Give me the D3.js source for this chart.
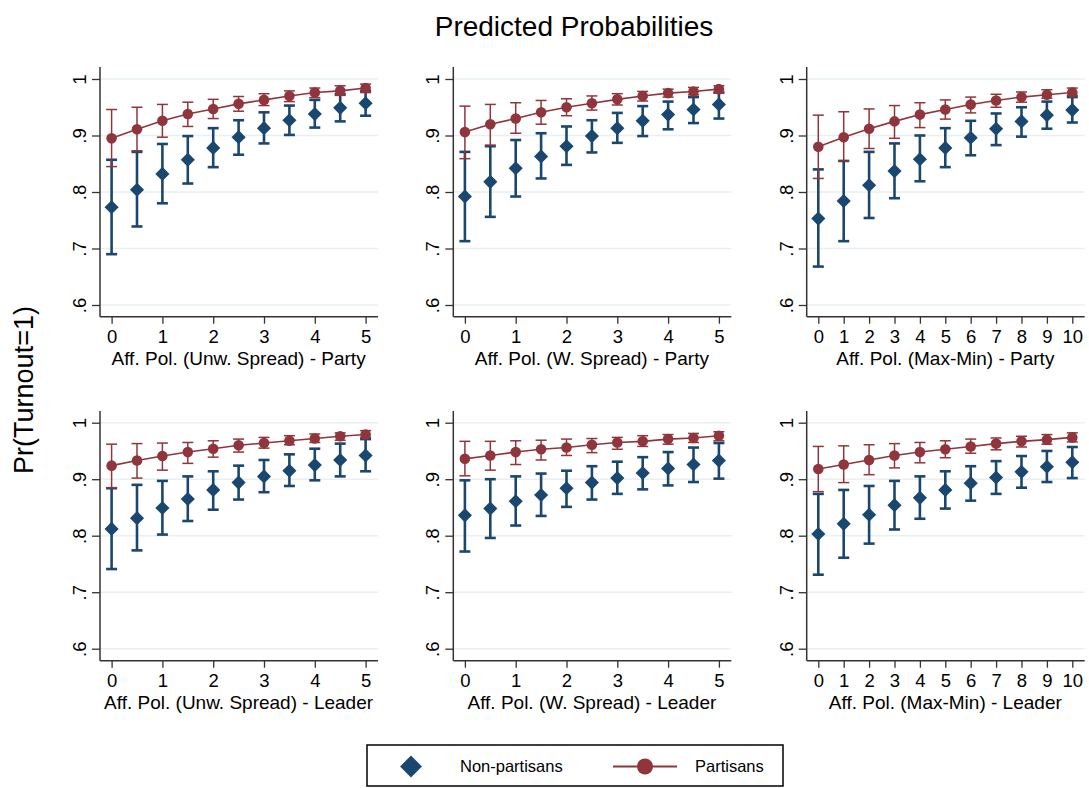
<!DOCTYPE html>
<html>
<head>
<meta charset="utf-8">
<script src="https://cdn.jsdelivr.net/npm/d3@7"></script>
<style>
    body { margin: 0; background: #fff; }
    svg { font-family: "Liberation Sans", Arial, Helvetica, sans-serif; display: block; }
</style>
</head>
<body>
<div id="chart"></div>
<script>
// Predicted probabilities of turnout, six panels
// each row of a series: [estimate, lower CI, upper CI]

const xHalfSteps = [0, 0.5, 1, 1.5, 2, 2.5, 3, 3.5, 4, 4.5, 5];
const xWholeSteps = [0, 1, 2, 3, 4, 5, 6, 7, 8, 9, 10];
const yTicks = [0.6, 0.7, 0.8, 0.9, 1];

const panelTitles = [
    "Aff. Pol. (Unw. Spread) - Party",
    "Aff. Pol. (W. Spread) - Party",
    "Aff. Pol. (Max-Min) - Party",
    "Aff. Pol. (Unw. Spread) - Leader",
    "Aff. Pol. (W. Spread) - Leader",
    "Aff. Pol. (Max-Min) - Leader"
];

const unwPartyNon = [[0.773, 0.690, 0.857], [0.804, 0.739, 0.871], [0.832, 0.780, 0.885], [0.857, 0.815, 0.899],
    [0.878, 0.844, 0.913], [0.897, 0.866, 0.927], [0.913, 0.886, 0.941], [0.927, 0.901, 0.953],
    [0.938, 0.914, 0.963], [0.949, 0.925, 0.973], [0.957, 0.935, 0.979]];
const unwPartyPar = [[0.895, 0.845, 0.946], [0.911, 0.873, 0.950], [0.926, 0.897, 0.955], [0.938, 0.916, 0.959],
    [0.947, 0.930, 0.964], [0.956, 0.943, 0.969], [0.963, 0.953, 0.974], [0.970, 0.960, 0.979],
    [0.976, 0.967, 0.984], [0.979, 0.971, 0.988], [0.984, 0.976, 0.991]];

const wPartyNon = [[0.792, 0.713, 0.871], [0.818, 0.756, 0.881], [0.842, 0.792, 0.892], [0.863, 0.824, 0.904],
    [0.881, 0.848, 0.916], [0.899, 0.870, 0.927], [0.913, 0.887, 0.940], [0.926, 0.899, 0.952],
    [0.937, 0.911, 0.960], [0.946, 0.922, 0.968], [0.955, 0.930, 0.976]];
const wPartyPar = [[0.906, 0.859, 0.952], [0.920, 0.883, 0.955], [0.930, 0.904, 0.958], [0.941, 0.920, 0.962],
    [0.950, 0.935, 0.965], [0.957, 0.945, 0.970], [0.964, 0.954, 0.974], [0.970, 0.961, 0.978],
    [0.975, 0.968, 0.982], [0.978, 0.972, 0.985], [0.982, 0.976, 0.988]];

const maxPartyNon = [[0.753, 0.668, 0.840], [0.784, 0.713, 0.855], [0.812, 0.754, 0.871], [0.837, 0.789, 0.886],
    [0.858, 0.819, 0.900], [0.878, 0.844, 0.913], [0.896, 0.865, 0.926], [0.912, 0.883, 0.939],
    [0.925, 0.898, 0.950], [0.936, 0.912, 0.960], [0.945, 0.923, 0.968]];
const maxPartyPar = [[0.880, 0.824, 0.936], [0.897, 0.855, 0.942], [0.912, 0.877, 0.947], [0.925, 0.895, 0.953],
    [0.937, 0.914, 0.958], [0.946, 0.929, 0.963], [0.955, 0.940, 0.968], [0.962, 0.950, 0.973],
    [0.968, 0.959, 0.977], [0.972, 0.966, 0.981], [0.976, 0.971, 0.984]];

const unwLeaderNon = [[0.812, 0.741, 0.884], [0.831, 0.774, 0.890], [0.849, 0.802, 0.897], [0.865, 0.826, 0.905],
    [0.881, 0.846, 0.914], [0.894, 0.864, 0.924], [0.905, 0.877, 0.934], [0.915, 0.888, 0.944],
    [0.925, 0.898, 0.954], [0.934, 0.905, 0.963], [0.942, 0.914, 0.971]];
const unwLeaderPar = [[0.924, 0.885, 0.962], [0.933, 0.902, 0.963], [0.941, 0.916, 0.964], [0.948, 0.928, 0.965],
    [0.954, 0.939, 0.968], [0.960, 0.948, 0.971], [0.964, 0.955, 0.974], [0.968, 0.961, 0.977],
    [0.972, 0.965, 0.980], [0.976, 0.969, 0.982], [0.979, 0.974, 0.986]];

const wLeaderNon = [[0.836, 0.772, 0.898], [0.848, 0.796, 0.900], [0.861, 0.818, 0.905], [0.872, 0.835, 0.910],
    [0.884, 0.851, 0.915], [0.894, 0.864, 0.923], [0.902, 0.874, 0.931], [0.911, 0.882, 0.939],
    [0.919, 0.889, 0.948], [0.926, 0.895, 0.956], [0.933, 0.901, 0.964]];
const wLeaderPar = [[0.936, 0.906, 0.967], [0.942, 0.916, 0.967], [0.948, 0.926, 0.968], [0.953, 0.934, 0.969],
    [0.956, 0.942, 0.971], [0.961, 0.947, 0.972], [0.965, 0.953, 0.974], [0.967, 0.958, 0.977],
    [0.971, 0.962, 0.979], [0.973, 0.965, 0.981], [0.977, 0.968, 0.984]];

const maxLeaderNon = [[0.803, 0.731, 0.874], [0.821, 0.761, 0.881], [0.837, 0.786, 0.888], [0.854, 0.811, 0.897],
    [0.867, 0.830, 0.905], [0.881, 0.848, 0.914], [0.893, 0.862, 0.923], [0.903, 0.874, 0.932],
    [0.913, 0.885, 0.941], [0.922, 0.895, 0.950], [0.930, 0.902, 0.957]];
const maxLeaderPar = [[0.918, 0.878, 0.958], [0.926, 0.894, 0.959], [0.934, 0.908, 0.961], [0.942, 0.920, 0.963],
    [0.948, 0.929, 0.965], [0.953, 0.938, 0.968], [0.958, 0.946, 0.971], [0.963, 0.952, 0.973],
    [0.967, 0.957, 0.976], [0.970, 0.962, 0.979], [0.974, 0.966, 0.982]];

const legendLabels = ["Non-partisans", "Partisans"];

const navy = "#1a476f";
const maroon = "#90353b";
const gridColor = "#e8f0f2";
const axisColor = "#333";

const panels = [
    { title: panelTitles[0], xs: xHalfSteps, non: unwPartyNon, par: unwPartyPar, xmax: 5 },
    { title: panelTitles[1], xs: xHalfSteps, non: wPartyNon, par: wPartyPar, xmax: 5 },
    { title: panelTitles[2], xs: xWholeSteps, non: maxPartyNon, par: maxPartyPar, xmax: 10 },
    { title: panelTitles[3], xs: xHalfSteps, non: unwLeaderNon, par: unwLeaderPar, xmax: 5 },
    { title: panelTitles[4], xs: xHalfSteps, non: wLeaderNon, par: wLeaderPar, xmax: 5 },
    { title: panelTitles[5], xs: xWholeSteps, non: maxLeaderNon, par: maxLeaderPar, xmax: 10 }
];

const W = 1089, H = 788;
const colLeft = [100, 453.3, 806.7];
const plotW = 278;
// per row: axis bottom, y of 0.6, y of 1, top of axis
const rows = [
    { bottom: 316.7, y06: 305, y1: 79, top: 67 },
    { bottom: 660.7, y06: 648.7, y1: 422.7, top: 411 }
];

const svg = d3.select("#chart").append("svg")
    .attr("width", W)
    .attr("height", H);

svg.append("rect").attr("width", W).attr("height", H).attr("fill", "#fff");

svg.append("text")
    .attr("x", 574)
    .attr("y", 36)
    .attr("text-anchor", "middle")
    .attr("font-size", 28)
    .attr("fill", "#000")
    .text("Predicted Probabilities");

svg.append("text")
    .attr("transform", "translate(33,390) rotate(-90)")
    .attr("text-anchor", "middle")
    .attr("font-size", 27)
    .attr("fill", "#000")
    .text("Pr(Turnout=1)");

const diamond = size => d3.symbol().type(d3.symbolSquare).size(size);

panels.forEach((p, i) => {
    const col = i % 3, row = rows[Math.floor(i / 3)];
    const left = colLeft[col];

    const x = d3.scaleLinear().domain([0, p.xmax]).range([left + 11.6, left + 265.6]);
    const y = d3.scaleLinear().domain([0.6, 1]).range([row.y06, row.y1]);

    const g = svg.append("g");

    // gridlines
    g.selectAll(".grid")
        .data(yTicks)
        .enter().append("line")
        .attr("x1", left).attr("x2", left + plotW)
        .attr("y1", d => y(d)).attr("y2", d => y(d))
        .attr("stroke", gridColor)
        .attr("stroke-width", 1.5);

    // y axis
    const yAxis = g.append("g")
        .attr("transform", `translate(${left},0)`)
        .call(d3.axisLeft(y).tickValues(yTicks).tickSize(8).tickSizeOuter(0)
            .tickFormat(d => d === 1 ? "1" : d3.format(".1f")(d).replace(/^0/, "")));
    yAxis.select(".domain").remove();
    yAxis.selectAll("line").attr("stroke", axisColor).attr("stroke-width", 1.3);
    yAxis.selectAll("text")
        .attr("font-size", 18.5)
        .attr("fill", "#000")
        .attr("text-anchor", "middle")
        .attr("dy", null)
        .attr("x", null)
        .attr("transform", "translate(-14,0) rotate(-90)");
    g.append("line")
        .attr("x1", left).attr("x2", left)
        .attr("y1", row.top).attr("y2", row.bottom)
        .attr("stroke", axisColor).attr("stroke-width", 1.5);

    // x axis
    const xAxis = g.append("g")
        .attr("transform", `translate(0,${row.bottom})`)
        .call(d3.axisBottom(x).ticks(p.xmax).tickSize(7).tickSizeOuter(0).tickFormat(d3.format("d")));
    xAxis.select(".domain").remove();
    xAxis.selectAll("line").attr("stroke", axisColor).attr("stroke-width", 1.3);
    xAxis.selectAll("text")
        .attr("font-size", 18.5)
        .attr("fill", "#000")
        .attr("dy", null)
        .attr("y", 26);
    g.append("line")
        .attr("x1", left).attr("x2", left + plotW)
        .attr("y1", row.bottom).attr("y2", row.bottom)
        .attr("stroke", axisColor).attr("stroke-width", 1.5);

    g.append("text")
        .attr("x", left + 138.6)
        .attr("y", row.bottom + 48)
        .attr("text-anchor", "middle")
        .attr("font-size", 19)
        .attr("fill", "#000")
        .text(p.title);

    const nonData = p.xs.map((v, k) => ({ x: v, est: p.non[k][0], lo: p.non[k][1], hi: p.non[k][2] }));
    const parData = p.xs.map((v, k) => ({ x: v, est: p.par[k][0], lo: p.par[k][1], hi: p.par[k][2] }));

    function drawCaps(data, color, width, half) {
        const cg = g.append("g").attr("stroke", color).attr("stroke-width", width).attr("fill", "none");
        cg.selectAll(".ci").data(data).enter().append("line")
            .attr("x1", d => x(d.x)).attr("x2", d => x(d.x))
            .attr("y1", d => y(d.lo)).attr("y2", d => y(d.hi));
        cg.selectAll(".caplo").data(data).enter().append("line")
            .attr("x1", d => x(d.x) - half).attr("x2", d => x(d.x) + half)
            .attr("y1", d => y(d.lo)).attr("y2", d => y(d.lo));
        cg.selectAll(".caphi").data(data).enter().append("line")
            .attr("x1", d => x(d.x) - half).attr("x2", d => x(d.x) + half)
            .attr("y1", d => y(d.hi)).attr("y2", d => y(d.hi));
    }

    drawCaps(nonData, navy, 2.6, 5.5);
    drawCaps(parData, maroon, 1.5, 5.5);

    g.selectAll(".diamond")
        .data(nonData)
        .enter().append("path")
        .attr("d", diamond(100))
        .attr("transform", d => `translate(${x(d.x)},${y(d.est)}) rotate(45)`)
        .attr("fill", navy);

    g.append("path")
        .datum(parData)
        .attr("fill", "none")
        .attr("stroke", maroon)
        .attr("stroke-width", 1.6)
        .attr("d", d3.line().x(d => x(d.x)).y(d => y(d.est)));

    g.selectAll(".dot")
        .data(parData)
        .enter().append("circle")
        .attr("cx", d => x(d.x))
        .attr("cy", d => y(d.est))
        .attr("r", 5.3)
        .attr("fill", maroon);
});

// legend
const legend = svg.append("g");
legend.append("rect")
    .attr("x", 367).attr("y", 745)
    .attr("width", 416).attr("height", 41)
    .attr("fill", "#fff")
    .attr("stroke", "#000")
    .attr("stroke-width", 1.5);

legend.append("path")
    .attr("d", diamond(240))
    .attr("transform", "translate(411,766.5) rotate(45)")
    .attr("fill", navy);
legend.append("text")
    .attr("x", 460).attr("y", 772)
    .attr("font-size", 16.5)
    .text(legendLabels[0]);

legend.append("line")
    .attr("x1", 613).attr("x2", 677)
    .attr("y1", 766.5).attr("y2", 766.5)
    .attr("stroke", maroon).attr("stroke-width", 2);
legend.append("circle")
    .attr("cx", 645).attr("cy", 766.5).attr("r", 8)
    .attr("fill", maroon);
legend.append("text")
    .attr("x", 695).attr("y", 772)
    .attr("font-size", 16.5)
    .text(legendLabels[1]);
</script>
</body>
</html>
